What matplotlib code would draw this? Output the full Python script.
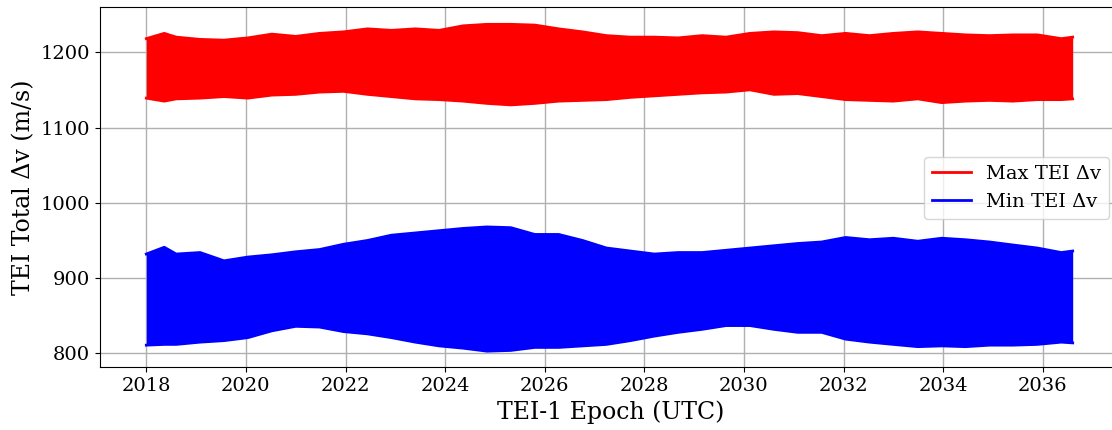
import matplotlib
matplotlib.use("Agg")
from matplotlib import pyplot as plt

# epoch (decimal year) and envelope of the TEI total delta-v
epoch = [2018.0, 2018.36, 2018.6, 2019.08, 2019.56, 2020.04, 2020.52, 2021.0, 2021.48, 2021.96,
         2022.44, 2022.92, 2023.4, 2023.88, 2024.36, 2024.84, 2025.32, 2025.8, 2026.28, 2026.76,
         2027.24, 2027.72, 2028.2, 2028.68, 2029.16, 2029.64, 2030.12, 2030.6, 2031.08, 2031.56,
         2032.04, 2032.52, 2033.0, 2033.49, 2033.97, 2034.45, 2034.93, 2035.4, 2035.89, 2036.37,
         2036.6]

max_dv_high = [1218, 1225, 1220, 1217, 1216, 1219, 1224, 1221, 1225, 1227,
               1231, 1229, 1231, 1229, 1235, 1237, 1237, 1236, 1231, 1227,
               1222, 1220, 1220, 1219, 1222, 1220, 1225, 1227, 1226, 1222,
               1225, 1222, 1225, 1227, 1225, 1223, 1222, 1223, 1223, 1218,
               1220]
max_dv_low = [1139, 1135, 1138, 1139, 1141, 1139, 1143, 1144, 1147, 1148,
              1144, 1141, 1138, 1137, 1135, 1132, 1130, 1132, 1135, 1136,
              1137, 1140, 1142, 1144, 1146, 1147, 1150, 1144, 1145, 1141,
              1137, 1136, 1135, 1138, 1133, 1135, 1136, 1135, 1137, 1137,
              1138]

min_dv_high = [932, 941, 932, 934, 923, 928, 931, 935, 938, 945,
               950, 957, 960, 963, 966, 968, 967, 958, 958, 950,
               940, 936, 932, 934, 934, 937, 940, 943, 946, 948,
               954, 951, 953, 949, 953, 951, 948, 944, 940, 934,
               936]
min_dv_low = [811, 812, 812, 815, 817, 821, 830, 836, 835, 829,
              826, 821, 815, 810, 807, 803, 804, 808, 808, 810,
              812, 817, 823, 828, 832, 837, 837, 832, 828, 828,
              819, 815, 812, 809, 810, 809, 811, 811, 812, 815,
              814]

years = list(range(2018, 2037, 2))

plt.rcParams['font.family'] = ['DejaVu Serif']

fig = plt.figure(figsize=(11.12, 4.30), dpi=100)
ax = fig.add_axes([100 / 1112, 63 / 430, 1021 / 1112, 360 / 430])

ax.fill_between(epoch, max_dv_low, max_dv_high, color='red', linewidth=0)
ax.plot(epoch, max_dv_high, color='red', linewidth=2, label='Max TEI Δv')
ax.plot(epoch, max_dv_low, color='red', linewidth=2)

ax.fill_between(epoch, min_dv_low, min_dv_high, color='blue', linewidth=0)
ax.plot(epoch, min_dv_high, color='blue', linewidth=2, label='Min TEI Δv')
ax.plot(epoch, min_dv_low, color='blue', linewidth=2)

ax.set_xlim(2017.07, 2037.57)
ax.set_ylim(782, 1260)
ax.set_xticks(years)
ax.set_yticks([800, 900, 1000, 1100, 1200])
ax.tick_params(labelsize=14)
ax.grid(True, color='#b0b0b0', linewidth=1)
ax.set_axisbelow(True)

ax.set_xlabel('TEI-1 Epoch (UTC)', fontsize=17)
ax.set_ylabel('TEI Total Δv (m/s)', fontsize=17)

ax.legend(loc='center right', bbox_to_anchor=(1109 / 1112, 1 - 188 / 430),
          bbox_transform=fig.transFigure, borderaxespad=0, fontsize=14)

plt.savefig('out.png', dpi=100)
